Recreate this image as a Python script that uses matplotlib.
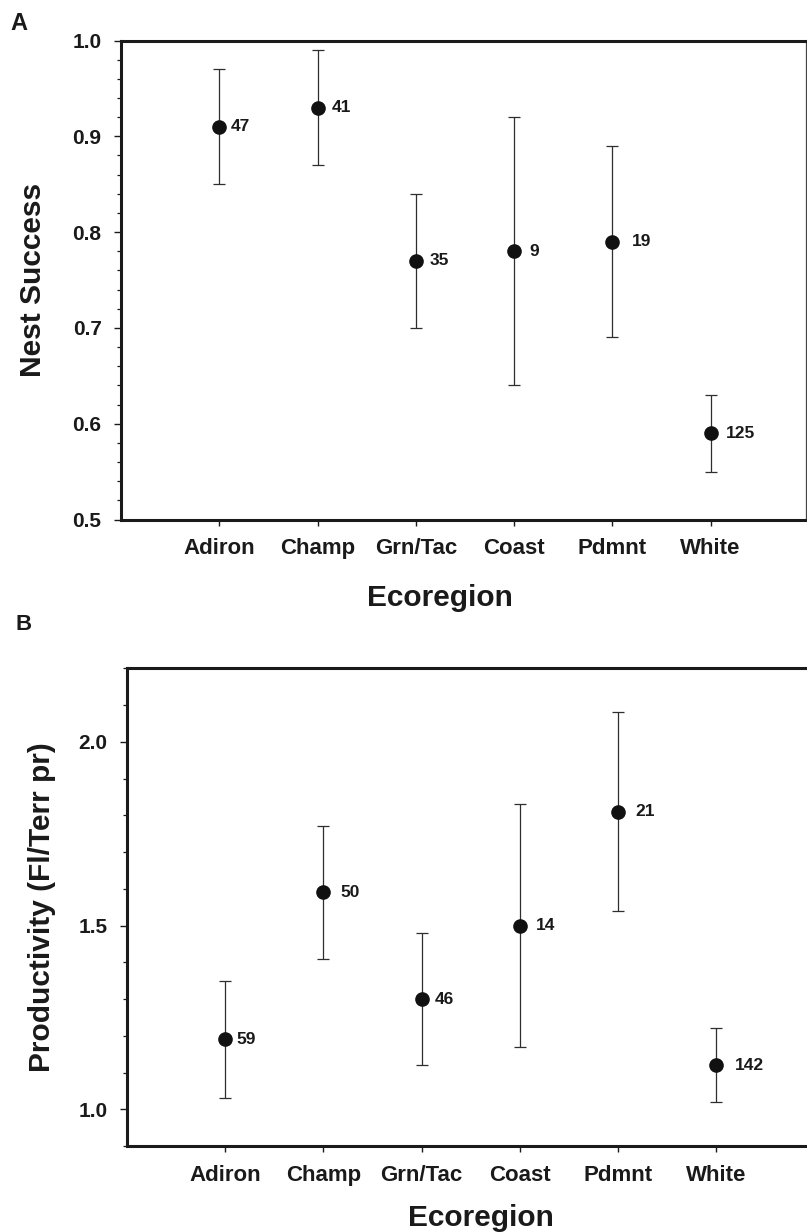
import numpy as np
import matplotlib
matplotlib.use("Agg")
import matplotlib.pyplot as plt
from matplotlib.ticker import MultipleLocator

plt.rcParams['font.family'] = ['Liberation Sans', 'DejaVu Sans']
plt.rcParams['font.weight'] = 'bold'

# Ecoregions shown along the x axis of both panels
ecoregions = ["Adiron", "Champ", "Grn/Tac", "Coast", "Pdmnt", "White"]

# Panel A: nest success with confidence limits and sample sizes
nest_success = [0.91, 0.93, 0.77, 0.78, 0.79, 0.59]
nest_lower = [0.85, 0.87, 0.70, 0.64, 0.69, 0.55]
nest_upper = [0.97, 0.99, 0.84, 0.92, 0.89, 0.63]
nest_n = [47, 41, 35, 9, 19, 125]

# Panel B: productivity (fledglings per territorial pair)
productivity = [1.19, 1.59, 1.30, 1.50, 1.81, 1.12]
prod_lower = [1.03, 1.41, 1.12, 1.17, 1.54, 1.02]
prod_upper = [1.35, 1.77, 1.48, 1.83, 2.08, 1.22]
prod_n = [59, 50, 46, 14, 21, 142]

INK = "#1a1a1a"
W, H = 807, 1232

fig = plt.figure(figsize=(W / 100, H / 100), dpi=100)
fig.patch.set_facecolor("white")


def draw_panel(ax, vals, lo, hi, ns, ylim, xlim, major, minor, ylabel,
               label_dx, ylabel_x, xlabel_xy):
    x = np.arange(1, len(vals) + 1)
    v = np.asarray(vals)
    yerr = [v - np.asarray(lo), np.asarray(hi) - v]
    ax.errorbar(x, v, yerr=yerr, fmt="o", color="#111111", ms=9.5,
                ecolor="#2e2e2e", elinewidth=0.9, capsize=4, capthick=0.9,
                zorder=3)
    for xi, vi, n, d in zip(x, v, ns, label_dx):
        ax.annotate(str(n), (xi, vi), xytext=(d, 0),
                    textcoords="offset pixels", ha="left", va="center",
                    fontsize=12.5, fontweight="bold", color=INK)

    ax.set_xlim(*xlim)
    ax.set_ylim(*ylim)
    ax.set_xticks(x)
    ax.set_xticklabels(ecoregions)
    ax.yaxis.set_major_locator(MultipleLocator(major))
    ax.yaxis.set_minor_locator(MultipleLocator(minor))
    ax.yaxis.set_major_formatter(plt.FormatStrFormatter("%.1f"))

    ax.tick_params(axis="y", which="major", direction="out", length=5,
                   width=1, pad=9, labelsize=15, colors=INK)
    ax.tick_params(axis="y", which="minor", direction="out", length=3,
                   width=0.9, colors=INK)
    ax.tick_params(axis="x", which="major", direction="out", length=4.5,
                   width=1, pad=9, labelsize=16, colors=INK)
    for lab in ax.get_xticklabels() + ax.get_yticklabels():
        lab.set_fontweight("bold")

    for side in ("left", "top", "bottom"):
        ax.spines[side].set_linewidth(2.2)
        ax.spines[side].set_color(INK)
    ax.spines["right"].set_linewidth(0.9)
    ax.spines["right"].set_color("#444444")

    ax.set_ylabel(ylabel, fontsize=21.5, fontweight="bold", color=INK,
                  va="center")
    ax.yaxis.set_label_coords(ylabel_x, 0.5)
    ax.set_xlabel("Ecoregion", fontsize=21.5, fontweight="bold", color=INK,
                  va="center")
    ax.xaxis.set_label_coords(*xlabel_xy)


# Panel A axes
axA = fig.add_axes([121 / W, 1 - 519.5 / H, 685 / W, 479 / H])
draw_panel(axA, nest_success, nest_lower, nest_upper, nest_n,
           ylim=(0.5, 1.0), xlim=(0, 6.97), major=0.1, minor=0.02,
           ylabel="Nest Success",
           label_dx=[11, 14, 14, 15, 19, 15],
           ylabel_x=-0.1285, xlabel_xy=(0.466, -0.164))

# Panel B axes
axB = fig.add_axes([126.7 / W, 1 - 1146 / H, 688 / W, 477.7 / H])
draw_panel(axB, productivity, prod_lower, prod_upper, prod_n,
           ylim=(0.9, 2.2), xlim=(0, 7), major=0.5, minor=0.1,
           ylabel="Productivity (Fl/Terr pr)",
           label_dx=[11, 17, 13, 16, 17, 18],
           ylabel_x=-0.123, xlabel_xy=(0.515, -0.151))

fig.text(19 / W, 1 - 23 / H, "A", fontsize=17, fontweight="bold",
         ha="center", va="center", color=INK)
fig.text(23.5 / W, 1 - 625 / H, "B", fontsize=16, fontweight="bold",
         ha="center", va="center", color=INK)

fig.savefig("out.png", dpi=100, facecolor="white")
